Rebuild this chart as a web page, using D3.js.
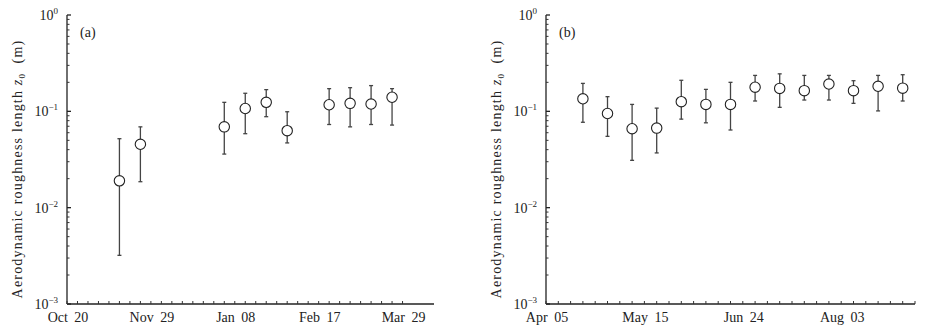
<!DOCTYPE html>
<html>
<head>
<meta charset="utf-8">
<script src="https://cdn.jsdelivr.net/npm/d3@7"></script>
<style>
  body { margin: 0; background: #fff; }
  text { font-family: "Liberation Serif", "DejaVu Serif", serif; fill: #222; }
</style>
</head>
<body>
<div id="chart"></div>
<script>

// ---- data ----
var datesA = ["2009-11-14", "2009-11-24", "2010-01-03", "2010-01-13", "2010-01-23",
              "2010-02-02", "2010-02-22", "2010-03-04", "2010-03-14", "2010-03-24"];
var z0A    = [0.019, 0.0455, 0.069, 0.107, 0.124, 0.063, 0.117, 0.121, 0.119, 0.140];
var lowA   = [0.0032, 0.0186, 0.036, 0.0586, 0.088, 0.047, 0.073, 0.069, 0.073, 0.072];
var highA  = [0.052, 0.069, 0.124, 0.154, 0.168, 0.099, 0.172, 0.176, 0.185, 0.172];

var datesB = ["2010-04-20", "2010-04-30", "2010-05-10", "2010-05-20", "2010-05-30",
              "2010-06-09", "2010-06-19", "2010-06-29", "2010-07-09", "2010-07-19",
              "2010-07-29", "2010-08-08", "2010-08-18", "2010-08-28"];
var z0B    = [0.135, 0.095, 0.066, 0.067, 0.126, 0.118, 0.118, 0.178, 0.173, 0.164,
              0.192, 0.164, 0.182, 0.174];
var lowB   = [0.077, 0.055, 0.031, 0.037, 0.083, 0.076, 0.064, 0.128, 0.110, 0.131,
              0.131, 0.121, 0.101, 0.128];
var highB  = [0.195, 0.142, 0.118, 0.108, 0.210, 0.169, 0.200, 0.236, 0.245, 0.236,
              0.236, 0.208, 0.236, 0.240];

var yTickLabels = ["0", "\u22121", "\u22122", "\u22123"];
var yLabel = "Aerodynamic roughness length ";

var parse = d3.utcParse("%Y-%m-%d");

var width = 925, height = 332;

var svg = d3.select("#chart").append("svg")
  .attr("width", width)
  .attr("height", height);

/*
 *  Panel - one of the two log-scale error bar plots
 */
Panel = function(opts) {
  this.opts = opts;
  this.initVis();
};

Panel.prototype.initVis = function() {
  var vis = this;
  var o = vis.opts;

  vis.g = svg.append("g");

  vis.x = d3.scaleUtc()
    .domain([parse(o.start), parse(o.end)])
    .range([o.left, o.right]);

  vis.y = d3.scaleLog()
    .domain([1e-3, 1])
    .range([304, 15]);

  // y axis line + ticks (inward)
  vis.g.append("line")
    .attr("x1", o.left).attr("x2", o.left)
    .attr("y1", vis.y(1)).attr("y2", vis.y(1e-3))
    .attr("stroke", "#222").attr("stroke-width", 1.3);

  var minor = [];
  [1e-3, 1e-2, 1e-1].forEach(function(d) {
    for (var k = 2; k <= 9; k++) minor.push(d * k);
  });
  vis.g.selectAll(".ymin").data(minor).enter().append("line")
    .attr("x1", o.left).attr("x2", o.left + 2.5)
    .attr("y1", function(d) { return vis.y(d); })
    .attr("y2", function(d) { return vis.y(d); })
    .attr("stroke", "#333").attr("stroke-width", 1);

  var major = [1, 1e-1, 1e-2, 1e-3];
  vis.g.selectAll(".ymaj").data(major).enter().append("line")
    .attr("x1", o.left).attr("x2", o.left + 4)
    .attr("y1", function(d) { return vis.y(d); })
    .attr("y2", function(d) { return vis.y(d); })
    .attr("stroke", "#222").attr("stroke-width", 1.3);

  var lab = vis.g.selectAll(".ylab").data(major).enter().append("text")
    .attr("x", o.left - 9)
    .attr("y", function(d) { return vis.y(d) + 5; })
    .attr("text-anchor", "end")
    .style("font-size", "14px");
  lab.append("tspan").text("10");
  lab.append("tspan")
    .attr("dy", -6)
    .style("font-size", "9px")
    .text(function(d, i) { return yTickLabels[i]; });

  // x axis
  vis.g.append("line")
    .attr("x1", o.left).attr("x2", o.right)
    .attr("y1", vis.y(1e-3)).attr("y2", vis.y(1e-3))
    .attr("stroke", "#222").attr("stroke-width", 1.3);

  var ticks = d3.utcDay.range(parse(o.start), d3.utcDay.offset(parse(o.lastTick), 1), 5);
  vis.g.selectAll(".xt").data(ticks).enter().append("line")
    .attr("x1", function(d) { return vis.x(d); })
    .attr("x2", function(d) { return vis.x(d); })
    .attr("y1", vis.y(1e-3)).attr("y2", vis.y(1e-3) - 3)
    .attr("stroke", "#333").attr("stroke-width", 1);

  var fmt = d3.utcFormat("%b %d");
  var labelled = d3.utcDay.range(parse(o.start), d3.utcDay.offset(parse(o.lastTick), 1), 40);
  vis.g.selectAll(".xl").data(labelled).enter().append("text")
    .attr("x", function(d) { return vis.x(d) + 1; })
    .attr("y", 322)
    .attr("text-anchor", "middle")
    .style("font-size", "14px")
    .style("word-spacing", "3px")
    .text(function(d) { return fmt(d); });

  // y axis title
  var t = vis.g.append("text")
    .attr("transform", "translate(" + (o.left - 45) + ",169) rotate(-90)")
    .attr("text-anchor", "middle")
    .style("font-size", "14px")
    .style("letter-spacing", "1.2px");
  t.append("tspan").text(yLabel);
  t.append("tspan").style("font-style", "italic").text("z");
  t.append("tspan").attr("dy", 3).style("font-size", "9px").text("0");
  t.append("tspan").attr("dy", -3).text("\u00a0\u00a0(m)");

  // panel tag
  vis.g.append("text")
    .attr("x", o.left + 13)
    .attr("y", 37)
    .style("font-size", "14px")
    .text(o.tag);

  vis.updateVis();
};

Panel.prototype.updateVis = function() {
  var vis = this;
  var o = vis.opts;

  var rows = o.dates.map(function(d, i) {
    return { date: parse(d), v: o.z0[i], lo: o.low[i], hi: o.high[i] };
  });

  var bar = vis.g.selectAll(".bar").data(rows).enter().append("g")
    .attr("class", "bar");

  bar.append("line")
    .attr("x1", function(d) { return vis.x(d.date); })
    .attr("x2", function(d) { return vis.x(d.date); })
    .attr("y1", function(d) { return vis.y(d.lo); })
    .attr("y2", function(d) { return vis.y(d.hi); })
    .attr("stroke", "#444").attr("stroke-width", 1.3);

  ["lo", "hi"].forEach(function(k) {
    bar.append("line")
      .attr("x1", function(d) { return vis.x(d.date) - 2; })
      .attr("x2", function(d) { return vis.x(d.date) + 2; })
      .attr("y1", function(d) { return vis.y(d[k]); })
      .attr("y2", function(d) { return vis.y(d[k]); })
      .attr("stroke", "#444").attr("stroke-width", 1.3);
  });

  bar.append("circle")
    .attr("cx", function(d) { return vis.x(d.date); })
    .attr("cy", function(d) { return vis.y(d.v); })
    .attr("r", 5.2)
    .attr("fill", "#fff")
    .attr("stroke", "#222")
    .attr("stroke-width", 1.1);
};

var panelA = new Panel({
  tag: "(a)", left: 67, right: 434,
  start: "2009-10-20", end: "2010-04-13", lastTick: "2010-03-29",
  dates: datesA, z0: z0A, low: lowA, high: highA
});

var panelB = new Panel({
  tag: "(b)", left: 546, right: 915,
  start: "2010-04-05", end: "2010-09-02", lastTick: "2010-09-02",
  dates: datesB, z0: z0B, low: lowB, high: highB
});

</script>
</body>
</html>
